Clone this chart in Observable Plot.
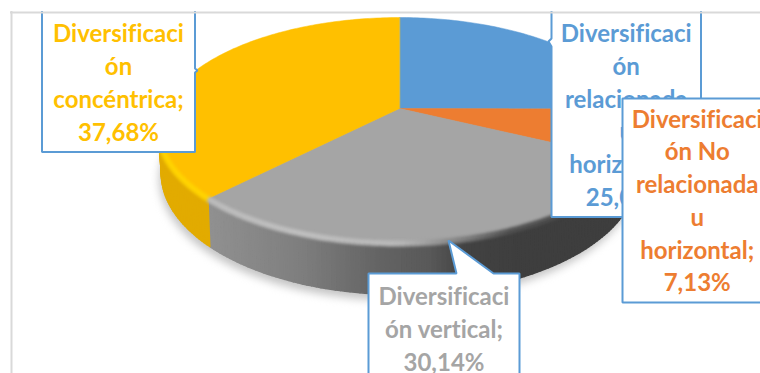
<!DOCTYPE html>
<html lang="es">
<head>
<meta charset="utf-8">
<script src="https://cdn.jsdelivr.net/npm/d3@7"></script>
<script src="https://cdn.jsdelivr.net/npm/@observablehq/plot@0.6"></script>
<style>
html,body{margin:0;padding:0;background:#fff;overflow:hidden}
svg{display:block}
svg text{font-variant-ligatures:none;font-feature-settings:"liga" 0}
</style>
</head>
<body>
<div id="chart"></div>
<script>
// ---------- data ----------
const categories = [
  "Diversificación relacionada u horizontal",
  "Diversificación No relacionada u horizontal",
  "Diversificación vertical",
  "Diversificación concéntrica"
];
const shares = [25.05, 7.13, 30.14, 37.68];
const sliceColors = ["#5B9BD5", "#ED7D31", "#A5A5A5", "#FFC000"];
const wallColors = ["#3f76a8", "#b85f24", "#666666", "#E2AB00"];
const labelTexts = [
  "Diversificaci\nón\nrelacionada\nu\nhorizontal;\n25,05%",
  "Diversificaci\nón No\nrelacionada\nu\nhorizontal;\n7,13%",
  "Diversificaci\nón vertical;\n30,14%",
  "Diversificaci\nón\nconcéntrica;\n37,68%"
];

// ---------- layout of the tilted pie ----------
const C = {x: 399, y: 108, A: 236, B: 108.7, p: 0.1947, depth: 41, shrink: 0.99};
const rad = d => d * Math.PI / 180;
function project(deg, lower = false) {
  const u = Math.sin(rad(deg)), v = -Math.cos(rad(deg)), w = 1 - C.p * v;
  return lower
    ? {x: C.x + C.shrink * C.A * u / w, y: C.y + (C.B * v + C.depth) / w}
    : {x: C.x + C.A * u / w, y: C.y + C.B * v / w};
}
let acc = 0;
const slices = shares.map((s, i) => {
  const a0 = acc * 3.6; acc += s;
  return {name: categories[i], a0, a1: acc * 3.6, i};
});
const arcAngles = (a0, a1) => d3.range(a0, a1, 1).concat([a1]);

const faces = slices.flatMap(s => [
  {slice: s.name, x: C.x, y: C.y},
  ...arcAngles(s.a0, s.a1).map(a => ({slice: s.name, ...project(a)}))
]);

const greyWallRamp = d3.scaleLinear()
  .domain([205, 300, 370, 430, 465, 520, 640])
  .range(["#919191", "#7e7e7e", "#666666", "#585858", "#424242", "#3e3e3e", "#3e3e3e"]);
const rimRamp = d3.scaleLinear()
  .domain([205, 300, 400, 460, 510, 640])
  .range(["#bcbcbc", "#c0c0c0", "#b8b8b8", "#808080", "#505050", "#444444"]);

const wallQuads = [], rimSegs = [];
slices.forEach(s => {
  const aa = arcAngles(s.a0, s.a1);
  for (let k = 0; k + 1 < aa.length; k++) {
    const a = aa[k], b = aa[k + 1], mid = (a + b) / 2;
    if (mid < 85 || mid > 272) continue;
    const t1 = project(a), t2 = project(b), l1 = project(a, true), l2 = project(b, true);
    const xm = project(mid).x;
    const grey = s.i === 2;
    const col = grey ? greyWallRamp(xm) : wallColors[s.i];
    const id = s.i + "-" + k;
    [t1, t2, l2, l1].forEach(p => wallQuads.push({id, col, ...p}));
    if (mid > 258) continue;
    const rim = grey ? rimRamp(xm) : (s.i === 3 ? "#FFD400" : sliceColors[s.i]);
    [t1, t2].forEach(p => rimSegs.push({id, col: rim, x: p.x, y: p.y}));
  }
});
const shadow = d3.range(85, 272, 2).map(a => {
  const p = project(a, true);
  return {x: p.x - 2, y: p.y + 6};
});
shadow.unshift({x: project(85).x, y: project(85).y});
shadow.push({x: project(272).x, y: project(272).y});

// ---------- callouts ----------
const boxes = [
  {id: "c", pts: [[41.5,8],[194.5,8],[194.5,68],[197,70],[194.5,72],[194.5,151.5],[41.5,151.5]]},
  {id: "b", pts: [[551,8],[700.5,8],[700.5,216.5],[551,216.5],[551,46],[548,41],[551,38]]},
  {id: "o", pts: [[622,98],[775,98],[775,302],[622,302]]},
  {id: "g", pts: [[368,273],[456,273],[448,240],[493,273],[519,273],[519,390],[368,390]]}
];
const boxPts = boxes.flatMap(b => b.pts.map(([x, y]) => ({id: b.id, x, y})));
const labelPos = [
  {x: 625.7, y: 113, i: 0}, {x: 696.7, y: 198.5, i: 1},
  {x: 443.5, y: 327, i: 2}, {x: 118, y: 80.5, i: 3}
];
const boxOf = id => boxPts.filter(d => d.id === id);
const callout = id => Plot.line(boxOf(id), {
  x: "x", y: "y", curve: "linear-closed", fill: "#fff", stroke: "#5B9BD5", strokeWidth: 2,
  strokeLinejoin: "miter"
});
const label = i => Plot.text([labelPos[i]], {
  x: "x", y: "y", text: d => labelTexts[d.i], fill: d => categories[d.i],
  fontFamily: "Lato", fontWeight: 700, fontSize: 24, lineHeight: 1.3625, textAnchor: "middle", lineAnchor: "middle"
});

const chart = Plot.plot({
  width: 760, height: 373, margin: 0,
  style: {background: "#fff"},
  x: {domain: [0, 760], range: [0, 760], axis: null},
  y: {domain: [0, 373], range: [0, 373], axis: null},
  color: {domain: categories, range: sliceColors},
  marks: [
    Plot.line(shadow, {x: "x", y: "y", curve: "linear-closed", fill: "#c4c4c4", stroke: null, imageFilter: "blur(4px)"}),
    Plot.line(wallQuads, {x: "x", y: "y", z: "id", curve: "linear-closed",
      fill: {value: d => d.col, scale: null}, stroke: {value: d => d.col, scale: null}, strokeWidth: 1.6}),
    Plot.line(faces, {x: "x", y: "y", z: "slice", curve: "linear-closed", fill: "slice", stroke: "slice", strokeWidth: 0.5}),
    Plot.line(rimSegs, {x: "x", y: "y", z: "id", stroke: {value: d => d.col, scale: null},
      strokeWidth: 6, strokeLinecap: "butt", imageFilter: "blur(1.5px)"}),
    callout("g"), label(2),
    callout("c"), label(3),
    callout("b"), label(0),
    callout("o"), label(1),
    Plot.rectY([0], {x1: 0, x2: 760, y1: 0, y2: 11, fill: "#fff"}),
    Plot.ruleY([12], {x1: 10, x2: 760, stroke: "#d9d9d9", strokeWidth: 2}),
    Plot.ruleX([11], {y1: 11, y2: 373, stroke: "#d9d9d9", strokeWidth: 2})
  ]
});
document.getElementById("chart").appendChild(chart);
</script>
</body>
</html>
